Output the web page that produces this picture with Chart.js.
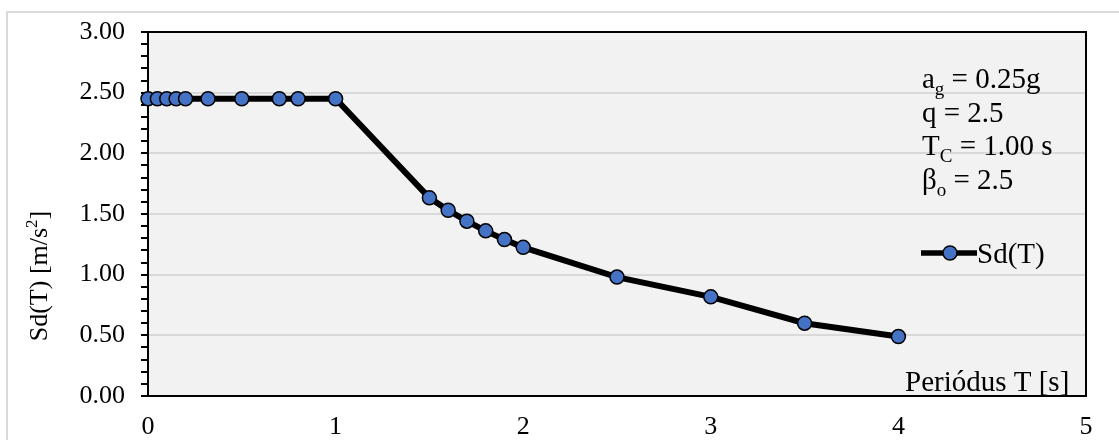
<!DOCTYPE html>
<html>
<head>
<meta charset="utf-8">
<script src="https://cdn.jsdelivr.net/npm/chart.js@4.4.0/dist/chart.umd.min.js"></script>
<style>
  html, body { margin: 0; padding: 0; background: #fff; }
  #wrap { width: 1119px; height: 440px; position: relative; }
</style>
</head>
<body>
<div id="wrap"><canvas id="grafico"></canvas></div>
<script>
// datos
const periodos = [0, 0.05, 0.1, 0.15, 0.2, 0.32, 0.5, 0.7, 0.8, 1.0, 1.5, 1.6, 1.7, 1.8, 1.9, 2.0, 2.5, 3.0, 3.5, 4.0];
const valoresSd = [2.45, 2.45, 2.45, 2.45, 2.45, 2.45, 2.45, 2.45, 2.45, 2.45, 1.633, 1.531, 1.441, 1.361, 1.289, 1.225, 0.98, 0.817, 0.60, 0.49];
const etiquetasY = ['0.00', '0.50', '1.00', '1.50', '2.00', '2.50', '3.00'];
const etiquetasX = ['0', '1', '2', '3', '4', '5'];
const parametros = [
  ['a', 'g', ' = 0.25g'],
  ['q', '', ' = 2.5'],
  ['T', 'C', ' = 1.00 s'],
  ['β', 'o', ' = 2.5']
];
const nombreSerie = 'Sd(T)';
const tituloX = 'Periódus T [s]';
const tituloY = ['Sd(T) [m/s', '2', ']'];

const fuente = '"Liberation Serif", "Times New Roman", serif';

function escribir(ctx, x, y, base, sub, resto) {
  ctx.font = '29px ' + fuente;
  ctx.fillText(base, x, y);
  x += ctx.measureText(base).width;
  if (sub) {
    ctx.font = '19px ' + fuente;
    ctx.fillText(sub, x, y + 7);
    x += ctx.measureText(sub).width;
    ctx.font = '29px ' + fuente;
  }
  ctx.fillText(resto, x, y);
}

const decorado = {
  id: 'decorado',
  beforeDraw(chart) {
    const { ctx, chartArea: a } = chart;
    ctx.save();
    ctx.fillStyle = '#fff';
    ctx.fillRect(0, 0, chart.width, chart.height);
    ctx.strokeStyle = '#d9d9d9';
    ctx.lineWidth = 2;
    ctx.strokeRect(7, 12, chart.width, chart.height);
    ctx.fillStyle = '#f2f2f2';
    ctx.fillRect(a.left, a.top, a.right - a.left, a.bottom - a.top);
    ctx.restore();
  },
  beforeDatasetsDraw(chart) {
    const { ctx, chartArea: a } = chart;
    ctx.save();
    ctx.strokeStyle = '#000';
    ctx.lineWidth = 2;
    ctx.beginPath();
    ctx.moveTo(a.left, a.top);
    ctx.lineTo(a.right, a.top);
    ctx.lineTo(a.right, a.bottom);
    ctx.stroke();
    ctx.restore();
  },
  afterDraw(chart) {
    const ctx = chart.ctx;
    ctx.save();
    ctx.fillStyle = '#000';
    ctx.textBaseline = 'alphabetic';
    ctx.textAlign = 'left';

    // parámetros
    parametros.forEach((p, i) => escribir(ctx, 922, 88 + i * 33.5, p[0], p[1], p[2]));

    // leyenda
    ctx.strokeStyle = '#000';
    ctx.lineWidth = 5.5;
    ctx.beginPath();
    ctx.moveTo(921, 253);
    ctx.lineTo(977, 253);
    ctx.stroke();
    ctx.beginPath();
    ctx.arc(950, 253, 7, 0, Math.PI * 2);
    ctx.fillStyle = '#4472c4';
    ctx.fill();
    ctx.lineWidth = 1.5;
    ctx.stroke();
    ctx.fillStyle = '#000';
    ctx.font = '29px ' + fuente;
    ctx.fillText(nombreSerie, 977, 263);

    // titulo eje x (dentro del área)
    ctx.fillText(tituloX, 905, 391);

    // titulo eje y
    ctx.translate(47, 276);
    ctx.rotate(-Math.PI / 2);
    ctx.font = '26px ' + fuente;
    const w1 = ctx.measureText(tituloY[0]).width;
    const w3 = ctx.measureText(tituloY[2]).width;
    ctx.font = '17px ' + fuente;
    const w2 = ctx.measureText(tituloY[1]).width;
    let x = -(w1 + w2 + w3) / 2;
    ctx.font = '26px ' + fuente;
    ctx.fillText(tituloY[0], x, 0);
    x += w1;
    ctx.font = '17px ' + fuente;
    ctx.fillText(tituloY[1], x, -10);
    x += w2;
    ctx.font = '26px ' + fuente;
    ctx.fillText(tituloY[2], x, 0);
    ctx.restore();
  }
};

new Chart(document.getElementById('grafico'), {
  type: 'line',
  data: {
    datasets: [{
      label: nombreSerie,
      data: periodos.map((t, i) => ({ x: t, y: valoresSd[i] })),
      borderColor: '#000',
      borderWidth: 6,
      pointRadius: 7,
      pointBackgroundColor: '#4472c4',
      pointBorderColor: '#000',
      pointBorderWidth: 1.5,
      tension: 0,
      clip: false
    }]
  },
  options: {
    responsive: true,
    maintainAspectRatio: false,
    animation: false,
    devicePixelRatio: 1,
    layout: { padding: { left: 0, top: 32, right: 33, bottom: 0 } },
    plugins: {
      legend: { display: false },
      tooltip: { enabled: false }
    },
    scales: {
      x: {
        type: 'linear',
        min: 0,
        max: 5,
        ticks: {
          stepSize: 1,
          color: '#000',
          padding: 16,
          font: { family: fuente, size: 26 },
          callback: v => etiquetasX[v] ?? ''
        },
        grid: { display: false, drawTicks: false },
        border: { display: true, color: '#000', width: 2 },
        afterFit: s => { s.height = 44; }
      },
      y: {
        min: 0,
        max: 3,
        ticks: {
          stepSize: 0.1,
          autoSkip: false,
          color: '#000',
          padding: 16,
          font: { family: fuente, size: 26 },
          callback: v => {
            const k = Math.round(v * 10);
            return k % 5 === 0 ? etiquetasY[k / 5] : '';
          }
        },
        grid: {
          color: c => {
            const k = Math.round(c.tick.value * 10);
            return (k % 5 === 0 && k > 0 && k < 30) ? '#d9d9d9' : 'rgba(0,0,0,0)';
          },
          lineWidth: 2,
          tickColor: '#000',
          tickLength: 7,
          tickWidth: 2
        },
        border: { display: true, color: '#000', width: 2 },
        afterFit: s => { s.width = 148; }
      }
    }
  },
  plugins: [decorado]
});
</script>
</body>
</html>
